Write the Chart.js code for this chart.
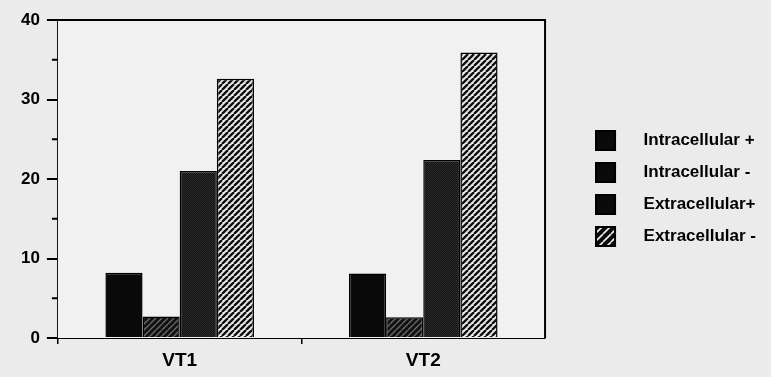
<!DOCTYPE html>
<html>
<head>
<meta charset="utf-8">
<script src="https://cdn.jsdelivr.net/npm/chart.js@4"></script>
<style>
  html, body { margin: 0; padding: 0; background: #ebebeb; }
  #wrap { width: 771px; height: 377px; }
</style>
</head>
<body>
<div id="wrap"><canvas id="grafik" width="771" height="377"></canvas></div>
<script>
// Data
const kategori = ['VT1', 'VT2'];
const seriNama = ['Intracellular +', 'Intracellular -', 'Extracellular+', 'Extracellular -'];
const intraPlus = [8.2, 8.1];
const intraMin = [2.7, 2.6];
const extraPlus = [21.0, 22.4];
const extraMin = [32.6, 35.9];
const yTicks = [0, 10, 20, 30, 40];

// Pola isian batang
function makePattern(size, draw) {
    const c = document.createElement('canvas');
    c.width = size;
    c.height = size;
    const g = c.getContext('2d');
    draw(g, size);
    return g.createPattern(c, 'repeat');
}

function diagonal(bg, fg, lw) {
    return function(g, s) {
        g.fillStyle = bg;
        g.fillRect(0, 0, s, s);
        g.strokeStyle = fg;
        g.lineWidth = lw;
        g.beginPath();
        for (let k = -1; k <= 1; k++) {
            g.moveTo(k * s, s);
            g.lineTo(k * s + s, 0);
        }
        g.stroke();
    };
}

const polaIntraMin = makePattern(6, diagonal('#111', '#6a6a6a', 1.4));
const polaExtraPlus = makePattern(2, function(g) {
    g.fillStyle = '#101010';
    g.fillRect(0, 0, 2, 2);
    g.fillStyle = '#2e2e2e';
    g.fillRect(0, 0, 1, 1);
    g.fillRect(1, 1, 1, 1);
});
const polaExtraMin = makePattern(6, diagonal('#ececec', '#111', 2.4));
const polaLegend = makePattern(8, diagonal('#0a0a0a', '#f4f4f4', 1.6));

const fills = ['#0a0a0a', polaIntraMin, polaExtraPlus, polaExtraMin];
const legendFills = ['#0a0a0a', '#0a0a0a', '#0a0a0a', polaLegend];
const seriData = [intraPlus, intraMin, extraPlus, extraMin];

// Kotak legend: persegi di kiri, sisanya transparan (memberi jarak ke teks)
function legendBox(fill) {
    const c = document.createElement('canvas');
    c.width = 40;
    c.height = 21;
    const g = c.getContext('2d');
    g.fillStyle = fill;
    g.fillRect(0, 0, 21, 21);
    g.strokeStyle = '#000';
    g.lineWidth = 2;
    g.strokeRect(1, 1, 19, 19);
    return c;
}
const legendImgs = legendFills.map(legendBox);

// Latar area plot + bingkai + tick minor
const bingkai = {
    id: 'bingkai',
    beforeDatasetsDraw(chart) {
        const a = chart.chartArea;
        const ctx = chart.ctx;
        ctx.save();
        ctx.fillStyle = '#f1f1f1';
        ctx.fillRect(a.left, a.top, a.right - a.left, a.bottom - a.top);
        ctx.restore();
    },
    afterDraw(chart) {
        const a = chart.chartArea;
        const ctx = chart.ctx;
        const y = chart.scales.y;
        ctx.save();
        ctx.strokeStyle = '#000';
        ctx.lineWidth = 2;
        ctx.beginPath();
        ctx.moveTo(a.left, a.top);
        ctx.lineTo(a.right, a.top);
        ctx.lineTo(a.right, a.bottom);
        ctx.stroke();
        ctx.beginPath();
        for (let i = 0; i < yTicks.length - 1; i++) {
            const py = y.getPixelForValue((yTicks[i] + yTicks[i + 1]) / 2);
            ctx.moveTo(a.left - 6, py);
            ctx.lineTo(a.left, py);
        }
        ctx.stroke();
        ctx.restore();
    }
};

const ctx = document.getElementById('grafik').getContext('2d');
new Chart(ctx, {
    type: 'bar',
    data: {
        labels: kategori,
        datasets: seriNama.map((nama, i) => ({
            label: nama,
            data: seriData[i],
            backgroundColor: fills[i],
            borderColor: '#000',
            borderWidth: 1.5,
            categoryPercentage: 0.61,
            barPercentage: 1.0
        }))
    },
    plugins: [bingkai],
    options: {
        responsive: false,
        animation: false,
        layout: { padding: { top: 20, left: 14, right: 5, bottom: 0 } },
        plugins: {
            tooltip: { enabled: false },
            legend: {
                position: 'right',
                align: 'start',
                maxWidth: 240,
                title: { display: true, text: ' ', font: { size: 10 }, padding: { top: 85, bottom: 0 } },
                labels: {
                    usePointStyle: true,
                    pointStyleWidth: 40,
                    padding: 15,
                    color: '#000',
                    font: { family: 'Liberation Sans', size: 17, weight: 'bold' },
                    generateLabels: function(chart) {
                        return chart.data.datasets.map((d, i) => ({
                            text: d.label,
                            pointStyle: legendImgs[i],
                            fillStyle: legendFills[i],
                            strokeStyle: '#000',
                            lineWidth: 0,
                            fontColor: '#000',
                            datasetIndex: i
                        }));
                    }
                }
            }
        },
        scales: {
            x: {
                grid: {
                    display: true,
                    drawOnChartArea: false,
                    tickLength: 6,
                    lineWidth: 1.5,
                    // tanpa tick di ujung kanan
                    tickColor: c => c.type === 'tick' ? '#000' : 'rgba(0,0,0,0)'
                },
                border: { display: true, color: '#000', width: 2 },
                ticks: {
                    padding: 7,
                    color: '#000',
                    font: { family: 'Liberation Sans', size: 19, weight: 'bold', lineHeight: 1 }
                }
            },
            y: {
                min: yTicks[0],
                max: yTicks[yTicks.length - 1],
                afterBuildTicks: function(scale) {
                    scale.ticks = yTicks.map(v => ({ value: v }));
                },
                grid: { display: true, drawOnChartArea: false, tickLength: 11, color: '#000', lineWidth: 2 },
                border: { display: true, color: '#000', width: 2 },
                ticks: {
                    padding: 7,
                    color: '#000',
                    font: { family: 'Liberation Sans', size: 17, weight: 'bold' }
                }
            },
            celah: {
                position: 'right',
                display: true,
                grid: { display: false, drawTicks: false },
                border: { display: false },
                ticks: { display: false },
                afterFit: function(scale) {
                    scale.width = 35;
                }
            }
        }
    }
});
</script>
</body>
</html>
